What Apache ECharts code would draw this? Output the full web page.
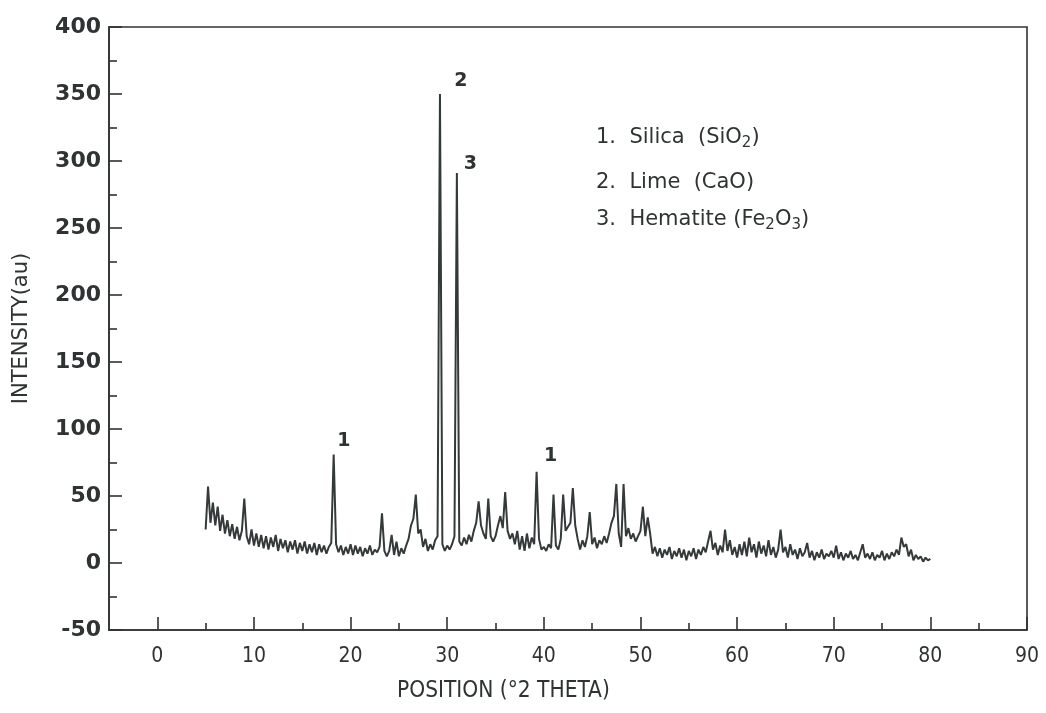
<!DOCTYPE html>
<html>
<head>
<meta charset="utf-8">
<title>XRD pattern</title>
<script src="https://cdn.jsdelivr.net/npm/echarts@6/dist/echarts.min.js"></script>
<style>
  html, body { margin: 0; padding: 0; background: #fff; }
  #chart { width: 1046px; height: 713px; }
</style>
</head>
<body>
<div id="chart"></div>
<script>
const scanStep = 0.25;

// 5.00 - 19.75
const segA = [25, 57, 30, 45, 28, 42, 24, 36, 22, 32, 20, 29, 18, 27, 17, 24, 48, 20, 14, 25,
  13, 22, 12, 21, 11, 20, 10, 19, 12, 21, 9, 18, 11, 17, 8, 16, 10, 17, 7, 15,
  9, 16, 7, 14, 8, 15, 6, 14, 8, 13, 7, 12, 15, 81, 14, 8, 13, 6, 12, 7];
// 20.00 - 34.75
const segB = [14, 6, 13, 7, 12, 5, 11, 7, 13, 6, 10, 8, 12, 37, 9, 5, 9, 21, 6, 16,
  5, 11, 7, 13, 18, 28, 33, 51, 22, 25, 12, 18, 9, 14, 10, 17, 20, 350, 14, 9,
  13, 10, 14, 20, 291, 16, 13, 19, 14, 21, 16, 24, 30, 46, 28, 22, 18, 48, 20, 16];
// 35.00 - 49.75
const segC = [20, 28, 35, 26, 53, 24, 18, 22, 14, 24, 10, 20, 9, 22, 11, 19, 14, 68, 18, 10,
  12, 9, 14, 11, 51, 13, 10, 18, 51, 24, 27, 30, 56, 28, 18, 10, 17, 12, 20, 38,
  14, 19, 11, 17, 14, 20, 15, 22, 30, 35, 59, 22, 12, 59, 20, 26, 18, 22, 16, 20];
// 50.00 - 64.75
const segD = [24, 42, 20, 34, 22, 7, 12, 5, 11, 4, 10, 6, 12, 3, 9, 5, 11, 4, 10, 2,
  9, 5, 11, 3, 10, 6, 12, 8, 16, 24, 10, 15, 6, 13, 8, 25, 9, 17, 6, 12,
  4, 14, 6, 16, 5, 19, 8, 14, 4, 16, 7, 13, 5, 17, 6, 12, 4, 10, 25, 8];
// 65.00 - 80.00
const segE = [12, 4, 14, 6, 10, 3, 11, 5, 8, 15, 4, 9, 2, 8, 4, 10, 3, 7, 5, 9,
  4, 13, 3, 8, 2, 7, 4, 9, 3, 6, 2, 8, 14, 4, 7, 3, 8, 2, 6, 4,
  9, 2, 7, 3, 8, 5, 10, 6, 19, 12, 14, 5, 10, 2, 6, 3, 5, 1, 4, 2, 3];

const segStarts = [5, 20, 35, 50, 65];
const segments = [segA, segB, segC, segD, segE];

const xTickLabels = [0, 10, 20, 30, 40, 50, 60, 70, 80, 90];
const xMinorTicks = [5, 15, 25, 35, 45, 55, 65, 75, 85];

const peakLabels = [
  { text: '1', pos: [19.3, 91] },
  { text: '2', pos: [31.4, 360] },
  { text: '3', pos: [32.4, 298] },
  { text: '1', pos: [40.7, 80] }
];

const phaseLegend = [
  '1.  Silica  (SiO{s|2})',
  '2.  Lime  (CaO)',
  '3.  Hematite (Fe{s|2}O{s|3})'
];

const scan = [];
segments.forEach((seg, k) => {
  seg.forEach((v, i) => scan.push([segStarts[k] + i * scanStep, v]));
});

const ink = '#2f3333';
const tickLine = { color: ink, width: 1.6 };

// one x axis per tick set, all sharing the same scale
const xBase = {
  type: 'value',
  min: -5,
  max: 90,
  position: 'bottom',
  splitLine: { show: false }
};

const chart = echarts.init(document.getElementById('chart'));

const option = {
  animation: false,
  backgroundColor: '#fff',
  grid: {
    left: 109, top: 27, right: 19, bottom: 83,
    show: true,
    borderColor: ink,
    borderWidth: 1.6
  },
  xAxis: [
    {
      ...xBase,
      axisLine: { onZero: false, lineStyle: tickLine },
      axisTick: { show: false },
      axisLabel: {
        customValues: xTickLabels,
        margin: 16,
        fontSize: 21,
        color: ink,
        fontFamily: 'DejaVu Sans Condensed, DejaVu Sans, sans-serif'
      }
    },
    {
      ...xBase,
      axisLine: { show: false, onZero: false },
      axisTick: { show: true, inside: true, length: 7, customValues: xMinorTicks, lineStyle: tickLine },
      axisLabel: { show: false }
    },
    {
      ...xBase,
      axisLine: { show: false, onZero: false },
      axisTick: { show: true, inside: true, length: 13, customValues: xTickLabels, lineStyle: tickLine },
      axisLabel: { show: false }
    }
  ],
  yAxis: {
    type: 'value',
    min: -50,
    max: 400,
    interval: 50,
    name: 'INTENSITY(au)',
    nameLocation: 'middle',
    nameGap: 77,
    nameTextStyle: { color: ink, fontFamily: 'DejaVu Sans', fontSize: 21 },
    axisLine: { onZero: false, lineStyle: tickLine },
    axisTick: { inside: true, length: 13, lineStyle: tickLine },
    minorTick: { show: true, splitNumber: 2, length: 8, lineStyle: tickLine },
    axisLabel: { color: ink, fontFamily: 'DejaVu Sans', fontWeight: 'bold', fontSize: 22, margin: 8 },
    splitLine: { show: false }
  },
  series: [
    {
      type: 'line',
      data: scan,
      showSymbol: false,
      lineStyle: { color: '#343939', width: 2 },
      markPoint: {
        symbol: 'circle',
        symbolSize: 0,
        label: {
          show: true,
          position: 'inside',
          formatter: p => p.name,
          fontSize: 19,
          color: ink,
          fontFamily: 'DejaVu Sans',
          fontWeight: 'bold'
        },
        data: peakLabels.map(p => ({ name: p.text, coord: p.pos }))
      }
    }
  ],
  graphic: [
    {
      type: 'text',
      left: 397,
      top: 680,
      style: {
        text: 'POSITION (°2 THETA)',
        font: '22.5px "DejaVu Sans Condensed", "DejaVu Sans", sans-serif',
        fill: ink
      }
    },
    ...phaseLegend.map((t, i) => ({
      type: 'text',
      left: 596,
      top: [127, 172, 209][i],
      style: {
        text: t,
        fontSize: 21,
        fontFamily: 'DejaVu Sans',
        fill: ink,
        rich: {
          s: { fontSize: 15, fontFamily: 'DejaVu Sans', fill: ink, padding: [12, 0, 0, 0] }
        }
      }
    }))
  ]
};

chart.setOption(option);
</script>
</body>
</html>
